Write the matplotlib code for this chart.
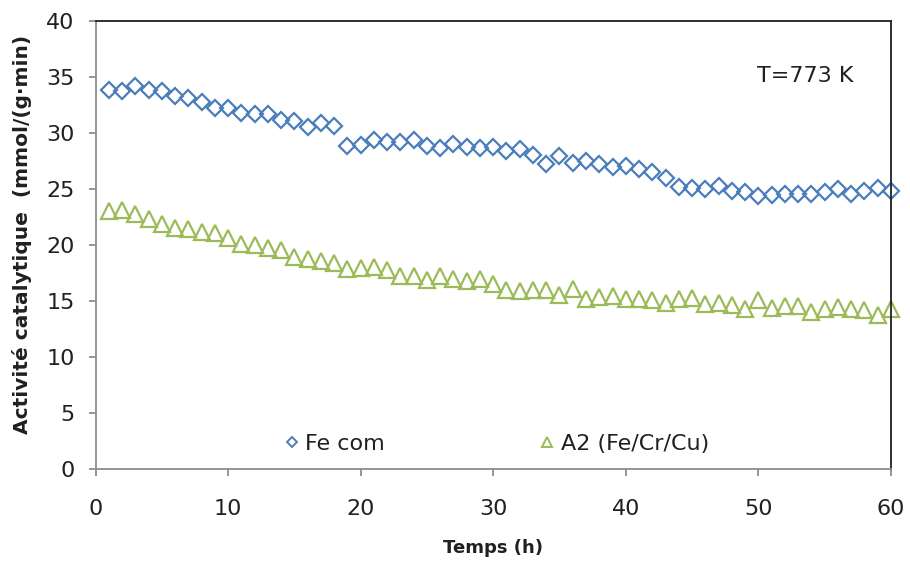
import matplotlib
matplotlib.use("Agg")
import matplotlib.pyplot as plt
from matplotlib.lines import Line2D

# ===============================
# DATA
# ===============================
temps = list(range(1, 61))

fe_com = [33.9, 33.8, 34.2, 33.9, 33.8, 33.3, 33.2, 32.8, 32.3, 32.3,
          31.8, 31.7, 31.7, 31.2, 31.1, 30.6, 30.9, 30.7, 28.9, 29.0,
          29.4, 29.2, 29.2, 29.4, 28.9, 28.7, 29.1, 28.8, 28.7, 28.8,
          28.4, 28.6, 28.1, 27.3, 28.0, 27.4, 27.5, 27.3, 27.0, 27.1,
          26.8, 26.6, 26.0, 25.2, 25.1, 25.0, 25.3, 24.9, 24.8, 24.4,
          24.5, 24.6, 24.6, 24.6, 24.8, 25.0, 24.6, 24.9, 25.1, 24.9]

a2 = [23.1, 23.2, 22.8, 22.4, 21.9, 21.6, 21.5, 21.2, 21.1, 20.7,
      20.1, 20.0, 19.8, 19.6, 19.0, 18.75, 18.6, 18.4, 17.9, 18.0,
      18.1, 17.8, 17.3, 17.3, 16.9, 17.3, 17.0, 16.8, 17.0, 16.6,
      16.0, 15.9, 16.0, 16.0, 15.6, 16.1, 15.2, 15.4, 15.5, 15.2,
      15.2, 15.1, 14.9, 15.2, 15.3, 14.8, 14.85, 14.7, 14.3, 15.1,
      14.4, 14.55, 14.55, 14.1, 14.35, 14.5, 14.35, 14.2, 13.8, 14.3]

labels = ["Fe com", "A2 (Fe/Cr/Cu)"]
BLUE = "#4A7EBB"
GREEN = "#9BBB59"

plt.rcParams["font.family"] = ["DejaVu Sans"]

fig = plt.figure(figsize=(9.1, 5.64), dpi=100)
ax = fig.add_axes([0.105, 0.1676, 0.874, 0.7944])

ax.plot(temps, fe_com, linestyle="none", marker="D", markersize=8,
        markerfacecolor="none", markeredgecolor=BLUE, markeredgewidth=1.6,
        clip_on=False)
ax.plot(temps, a2, linestyle="none", marker="^", markersize=11,
        markerfacecolor="none", markeredgecolor=GREEN, markeredgewidth=1.6,
        clip_on=False)

ax.set_xlim(0, 60)
ax.set_ylim(0, 40)
ax.set_xticks(range(0, 61, 10))
ax.set_yticks(range(0, 41, 5))

for side in ["left", "bottom"]:
    ax.spines[side].set_color("#8C8C8C")
    ax.spines[side].set_linewidth(1.3)
for side in ["top", "right"]:
    ax.spines[side].set_color("#231F20")
    ax.spines[side].set_linewidth(1.3)

ax.tick_params(axis="both", colors="#8C8C8C", labelcolor="#231F20",
               labelsize=16, length=5, width=1.3)
ax.tick_params(axis="x", pad=16)
ax.tick_params(axis="y", pad=10)

ax.set_xlabel("Temps (h)", fontsize=13, fontweight="bold", color="#231F20",
              va="center")
ax.set_ylabel("Activité catalytique  (mmol/(g·min)", fontsize=14.5,
              fontweight="bold", color="#231F20", va="center")
ax.xaxis.set_label_coords(0.5, -0.175)
ax.yaxis.set_label_coords(-0.093, 0.525)

ax.text(49.9, 35.1, "T=773 K", fontsize=16, va="center", ha="left",
        color="#231F20")

handles = [
    Line2D([], [], linestyle="none", marker="D", markersize=5,
           markerfacecolor="none", markeredgecolor=BLUE, markeredgewidth=1.4),
    Line2D([], [], linestyle="none", marker="^", markersize=7,
           markerfacecolor="none", markeredgecolor=GREEN, markeredgewidth=1.4),
]
leg = ax.legend(handles, labels, ncol=2, loc="center",
                bbox_to_anchor=(0.505, 0.057), frameon=False, fontsize=16,
                handlelength=0.6, handletextpad=0.3, columnspacing=7.0)
for t in leg.get_texts():
    t.set_color("#231F20")

fig.savefig("out.png", dpi=100)
